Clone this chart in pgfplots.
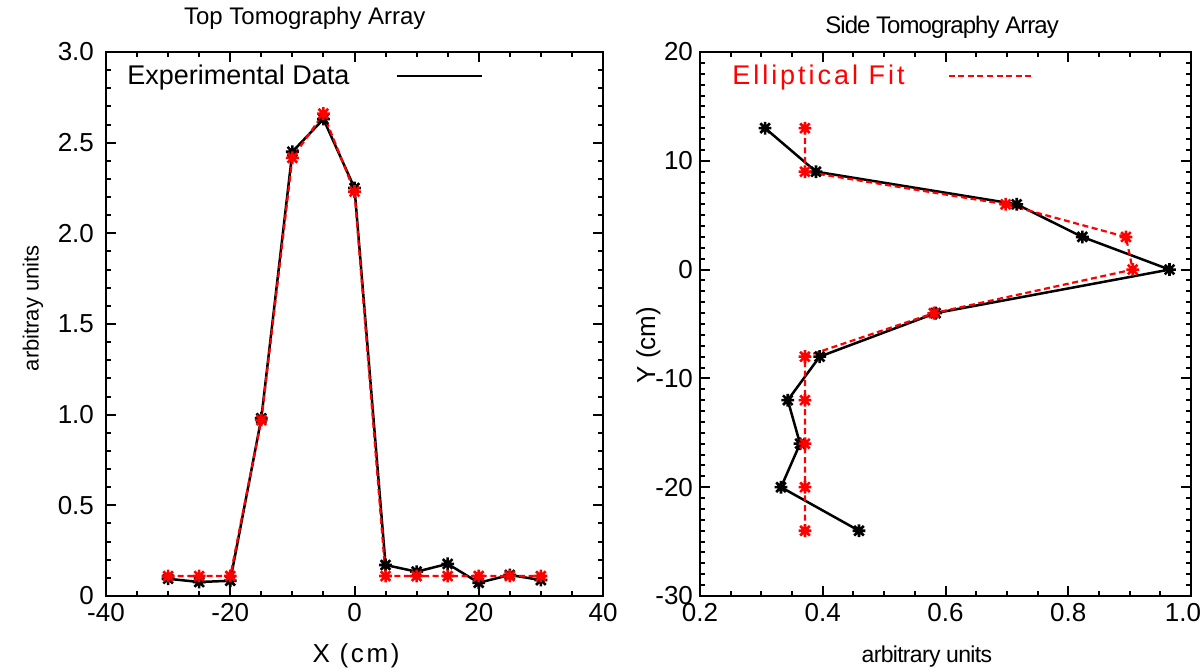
\documentclass[border=0pt]{standalone}
\usepackage{fontspec}
\setmainfont{Liberation Sans}
\usepackage{pgfplots}
\pgfplotsset{compat=1.18}

% 8-armed asterisk like the original markers
\pgfdeclareplotmark{ast8}{%
  \pgfpathmoveto{\pgfqpoint{-\pgfplotmarksize}{0pt}}\pgfpathlineto{\pgfqpoint{\pgfplotmarksize}{0pt}}%
  \pgfpathmoveto{\pgfqpoint{0pt}{-\pgfplotmarksize}}\pgfpathlineto{\pgfqpoint{0pt}{\pgfplotmarksize}}%
  \pgfpathmoveto{\pgfqpoint{-0.75\pgfplotmarksize}{-0.75\pgfplotmarksize}}\pgfpathlineto{\pgfqpoint{0.75\pgfplotmarksize}{0.75\pgfplotmarksize}}%
  \pgfpathmoveto{\pgfqpoint{-0.75\pgfplotmarksize}{0.75\pgfplotmarksize}}\pgfpathlineto{\pgfqpoint{0.75\pgfplotmarksize}{-0.75\pgfplotmarksize}}%
  \pgfusepathqstroke}

\pgfplotsset{tomo/.style={
  scale only axis,
  height=272pt,
  axis line style={line width=1.4pt},
  tick style={line width=1pt, black},
  major tick length=5pt, minor tick length=2.5pt,
  tick align=inside,
  /pgf/number format/assume math mode=true,
  every tick label/.append style={font=\fontsize{13}{15}\selectfont},
  legend plot pos=right,
  legend cell align=left,
  legend style={draw=none, fill=none, font=\fontsize{13.5}{16}\selectfont,
    anchor=north west, inner sep=0pt},
  every axis title shift=0pt,
  every axis title/.append style={font=\fontsize{12}{14}\selectfont},
}}

\begin{document}
\begin{tikzpicture}
\useasboundingbox (0,0) rectangle (601.5pt,336pt);

% left panel
\begin{axis}[tomo,
  at={(53pt,38pt)}, anchor=south west,
  width=248.5pt,
  xmin=-40, xmax=40, ymin=0, ymax=3,
  xtick={-40,-20,0,20,40}, xticklabels={-40,-20,0,20,40},
  minor x tick num=3,
  ytick={0,0.5,1,1.5,2,2.5,3}, yticklabels={0,0.5,1.0,1.5,2.0,2.5,3.0},
  minor y tick num=4,
  yticklabel style={xshift=-2.5pt},
  title={Top Tomography Array},
  title style={at={(axis description cs:0.40,1.0625)}, anchor=center},
  xlabel={\fontsize{13}{15}\selectfont\addfontfeature{LetterSpace=10}X (cm)},
  xlabel style={at={(axis description cs:0.503,-0.110)}, anchor=center},
  ylabel={\fontsize{11}{13}\selectfont arbitray units},
  ylabel style={at={(axis description cs:-0.147,0.529)}, anchor=center},
  legend style={at={(axis description cs:0.034,0.985)}},
  legend image code/.code={\draw[#1] (0pt,0pt) -- (42.5pt,0pt);},
]
\addplot[black, line width=1.25pt, mark=ast8, mark size=3.2pt,
  mark options={solid, line width=1.3pt}] coordinates {
(-30,0.095) (-25,0.077) (-20,0.084) (-15,0.98) (-10,2.45) (-5,2.63) (0,2.25)
(5,0.171) (10,0.134) (15,0.177) (20,0.073) (25,0.116) (30,0.088)
};
\addlegendentry{Experimental Data\hspace*{21pt}}
\addplot[red, line width=1.1pt, dash pattern=on 3pt off 1.8pt, mark=ast8, mark size=3.2pt,
  mark options={solid, line width=1.3pt}, forget plot] coordinates {
(-30,0.11) (-25,0.11) (-20,0.11) (-15,0.97) (-10,2.416) (-5,2.66) (0,2.23)
(5,0.11) (10,0.11) (15,0.11) (20,0.11) (25,0.11) (30,0.11)
};
\end{axis}

% right panel
\begin{axis}[tomo,
  at={(350pt,38pt)}, anchor=south west,
  width=245.5pt,
  xmin=0.2, xmax=1.0, ymin=-30, ymax=20,
  xtick={0.2,0.4,0.6,0.8,1.0}, xticklabels={0.2,0.4,0.6,0.8,\hspace*{-8pt}1.0},
  minor x tick num=3,
  ytick={-30,-20,-10,0,10,20}, yticklabels={-30,-20,-10,0,10,20},
  minor y tick num=9,
  title={Side Tomography Array},
  title style={at={(axis description cs:0.493,1.046)}, anchor=center,
    font=\fontsize{12}{14}\selectfont\addfontfeature{LetterSpace=-4}},
  xlabel={\fontsize{11.5}{13}\selectfont\addfontfeature{LetterSpace=-3}arbitrary units},
  xlabel style={at={(axis description cs:0.462,-0.112)}, anchor=center},
  ylabel={\fontsize{13}{15}\selectfont Y (cm)},
  ylabel style={at={(axis description cs:-0.105,0.461)}, anchor=center},
  legend style={at={(axis description cs:0.057,0.985)},
    font=\fontsize{13.5}{16}\selectfont\addfontfeature{LetterSpace=11}},
  legend image code/.code={\draw[#1] (0pt,0pt) -- (42pt,0pt);},
]
\addplot[black, line width=1.25pt, mark=ast8, mark size=3.2pt,
  mark options={solid, line width=1.3pt}, forget plot] coordinates {
(0.306,13) (0.389,9) (0.716,6) (0.823,3) (0.965,0) (0.584,-4)
(0.395,-8) (0.343,-12) (0.363,-16) (0.332,-20) (0.459,-24)
};
\addplot[red, line width=1.1pt, dash pattern=on 3pt off 1.8pt, mark=ast8, mark size=3.2pt,
  mark options={solid, line width=1.3pt}] coordinates {
(0.371,13) (0.371,9) (0.698,6) (0.894,3) (0.905,0) (0.581,-4)
(0.371,-8) (0.371,-12) (0.371,-16) (0.371,-20) (0.371,-24)
};
\addlegendentry{\textcolor{red}{Elliptical Fit}\hspace*{19.5pt}}
\end{axis}
\end{tikzpicture}
\end{document}
